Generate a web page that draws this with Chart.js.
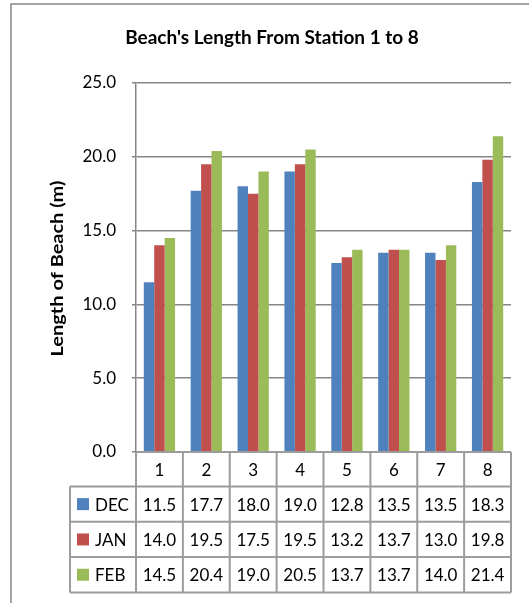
<!DOCTYPE html>
<html>
<head>
<meta charset="utf-8">
<script src="https://cdn.jsdelivr.net/npm/chart.js@4/dist/chart.umd.min.js"></script>
<style>
html,body{margin:0;padding:0;background:#fff;}
canvas{display:block;}
</style>
</head>
<body>
<canvas id="c" width="529" height="603"></canvas>
<script>
const categories = ["1","2","3","4","5","6","7","8"];
const seriesNames = ["DEC","JAN","FEB"];
const seriesColors = ["#4F81BD","#C0504D","#9BBB59"];
const dec = [11.5,17.7,18.0,19.0,12.8,13.5,13.5,18.3];
const jan = [14.0,19.5,17.5,19.5,13.2,13.7,13.0,19.8];
const feb = [14.5,20.4,19.0,20.5,13.7,13.7,14.0,21.4];
const chartTitle = "Beach's Length From Station 1 to 8";
const yTitle = "Length of Beach (m)";

const FONT = "Lato, 'Open Sans', sans-serif";
const GRID = "#868686";
const TABLE = "#9c9c9c";

const frame = {
  id: 'frame',
  beforeDraw(chart) {
    const ctx = chart.ctx;
    ctx.save();
    ctx.strokeStyle = GRID;
    ctx.lineWidth = 1.5;
    ctx.beginPath();
    ctx.moveTo(11, 603);
    ctx.lineTo(11, 4);
    ctx.lineTo(529, 4);
    ctx.stroke();
    ctx.restore();
  }
};

const titles = {
  id: 'titles',
  afterDraw(chart) {
    const ctx = chart.ctx;
    const area = chart.chartArea;
    ctx.save();
    ctx.fillStyle = "#000";
    ctx.textAlign = "center";
    ctx.textBaseline = "middle";
    // chart title
    ctx.font = "bold 19px " + FONT;
    const tw = ctx.measureText(chartTitle).width;
    ctx.save();
    ctx.translate(272, 38);
    ctx.scale(Math.min(1, 301 / tw), 1);
    ctx.fillText(chartTitle, 0, 0);
    ctx.restore();
    // y axis title
    ctx.translate(58, (area.top + area.bottom) / 2 + 1);
    ctx.rotate(-Math.PI / 2);
    ctx.font = "bold 17px " + FONT;
    const w = ctx.measureText(yTitle).width;
    ctx.scale(176 / w, 1);
    ctx.fillText(yTitle, 0, 0);
    ctx.restore();
  }
};

const dataTable = {
  id: 'dataTable',
  afterDraw(chart) {
    const ctx = chart.ctx;
    const area = chart.chartArea;
    const xs = chart.scales.x;
    const n = categories.length;
    const colW = (area.right - area.left) / n;
    const top = area.bottom;
    const catH = 34.5;
    const rowH = 35.3;
    const legendLeft = 70;
    const rowsTop = top + catH;
    const bottom = rowsTop + rowH * seriesNames.length;
    ctx.save();
    ctx.strokeStyle = TABLE;
    ctx.lineWidth = 2;
    ctx.beginPath();
    ctx.moveTo(area.left, top); ctx.lineTo(area.right, top);
    for (let r = 0; r <= seriesNames.length; r++) {
      const y = rowsTop + r * rowH;
      ctx.moveTo(legendLeft, y); ctx.lineTo(area.right, y);
    }
    for (let i = 0; i <= n; i++) {
      const x = area.left + i * colW;
      ctx.moveTo(x, top); ctx.lineTo(x, bottom);
    }
    ctx.moveTo(legendLeft, rowsTop); ctx.lineTo(legendLeft, bottom);
    ctx.stroke();

    ctx.fillStyle = "#000";
    ctx.font = "17px " + FONT;
    ctx.textAlign = "center";
    ctx.textBaseline = "middle";
    const allData = chart.data.datasets.map(d => d.data);
    categories.forEach((c, i) => {
      const cx = xs.getPixelForValue(i);
      ctx.fillText(c, cx, top + catH / 2 + 1);
      allData.forEach((arr, r) => {
        ctx.fillText(arr[i].toFixed(1), cx, rowsTop + r * rowH + rowH / 2 + 1);
      });
    });
    seriesNames.forEach((s, r) => {
      const cy = rowsTop + r * rowH + rowH / 2;
      ctx.fillStyle = seriesColors[r];
      ctx.fillRect(77, cy - 6, 12, 12);
      ctx.fillStyle = "#000";
      ctx.textAlign = "left";
      ctx.fillText(s, 95, cy + 1);
    });
    ctx.restore();
  }
};

new Chart(document.getElementById('c'), {
  type: 'bar',
  data: {
    labels: categories,
    datasets: [
      { label: seriesNames[0], data: dec, backgroundColor: seriesColors[0] },
      { label: seriesNames[1], data: jan, backgroundColor: seriesColors[1] },
      { label: seriesNames[2], data: feb, backgroundColor: seriesColors[2] }
    ]
  },
  options: {
    responsive: false,
    devicePixelRatio: 1,
    animation: false,
    layout: { padding: { left: 0, right: 18, top: 83, bottom: 0 } },
    datasets: { bar: { categoryPercentage: 0.667, barPercentage: 1.0, borderWidth: 0 } },
    plugins: {
      legend: { display: false },
      tooltip: { enabled: false },
      title: { display: false, text: chartTitle }
    },
    scales: {
      x: {
        grid: { display: false },
        border: { display: false },
        ticks: { display: false },
        afterFit(scale) { scale.height = 151; }
      },
      y: {
        min: 0,
        max: 25,
        ticks: {
          stepSize: 5,
          color: "#000",
          padding: 16,
          font: { family: FONT, size: 17 },
          callback: v => Number(v).toFixed(1)
        },
        grid: { color: GRID, lineWidth: 1.5, tickLength: 4 },
        border: { display: true, color: GRID, width: 1.5 },
        title: { display: false, text: yTitle },
        afterFit(scale) { scale.width = 136; }
      }
    }
  },
  plugins: [frame, dataTable, titles]
});
</script>
</body>
</html>
